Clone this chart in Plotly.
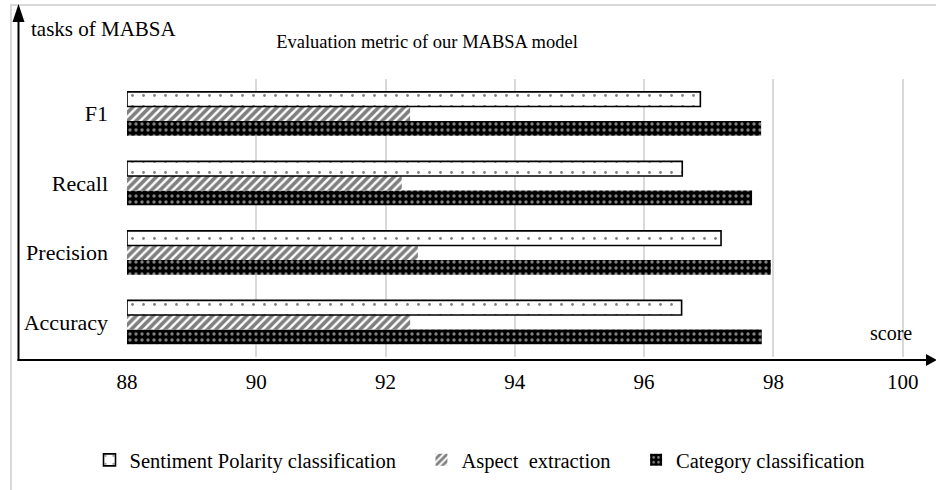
import plotly.graph_objects as go

# ---- data ----
metrics = ["Accuracy", "Precision", "Recall", "F1"]
sentiment_polarity = [96.58, 97.19, 96.59, 96.87]
aspect_extraction = [92.38, 92.50, 92.25, 92.38]
category_classification = [97.82, 97.96, 97.67, 97.81]
x_ticks = [88, 90, 92, 94, 96, 98, 100]
axis_start = 88
series_names = ["Sentiment Polarity classification", "Aspect  extraction",
                "Category classification"]

FONT = "Liberation Serif, Times New Roman, serif"
W, H = 936, 490
L, R, T, B = 127, 1, 79, 133
PW, PH = W - L - R, H - T - B
PAD = "\u00a0" * 4


def px(x):
    return (x - L) / PW


def py(y):
    return (H - B - y) / PH


fig = go.Figure()

# traces added bottom-to-top inside each group
fig.add_trace(go.Bar(
    name=series_names[2], y=metrics,
    x=[v - axis_start for v in category_classification], base=axis_start,
    orientation="h", legendrank=3,
    marker=dict(color="black", line=dict(width=0),
                pattern=dict(shape=".", fgcolor="white", bgcolor="black",
                             size=6, solidity=0.25)),
))
fig.add_trace(go.Bar(
    name=series_names[1] + PAD, y=metrics,
    x=[v - axis_start for v in aspect_extraction], base=axis_start,
    orientation="h", legendrank=2,
    marker=dict(color="white", line=dict(width=0),
                pattern=dict(shape="/", fgcolor="black", bgcolor="white",
                             size=6, solidity=0.6)),
))
fig.add_trace(go.Bar(
    name=series_names[0] + PAD, y=metrics,
    x=[v - axis_start for v in sentiment_polarity], base=axis_start,
    orientation="h", legendrank=1,
    marker=dict(color="white", line=dict(width=1.6, color="black"),
                pattern=dict(shape=".", fgcolor="black", bgcolor="white",
                             size=11, solidity=0.05)),
))

shapes = [
    # outer light frame
    dict(type="rect", xref="paper", yref="paper",
         x0=px(11), x1=px(945), y0=py(500), y1=py(5),
         line=dict(color="#d9d9d9", width=2), layer="below"),
    # y axis arrow
    dict(type="line", xref="paper", yref="paper",
         x0=px(18.5), x1=px(18.5), y0=py(361), y1=py(18),
         line=dict(color="black", width=2)),
    dict(type="path", xref="paper", yref="paper",
         path=f"M {px(18.5)} {py(4)} L {px(12.5)} {py(22)} L {px(24.5)} {py(22)} Z",
         fillcolor="black", line=dict(width=0)),
    # x axis arrow
    dict(type="line", xref="paper", yref="paper",
         x0=px(17.5), x1=px(928), y0=py(360), y1=py(360),
         line=dict(color="black", width=2)),
    dict(type="path", xref="paper", yref="paper",
         path=f"M {px(937)} {py(360)} L {px(926)} {py(354)} L {px(926)} {py(366)} Z",
         fillcolor="black", line=dict(width=0)),
]

annotations = [
    dict(text="tasks of MABSA", xref="paper", yref="paper",
         x=px(29), y=py(29), xanchor="left", yanchor="middle",
         showarrow=False, font=dict(family=FONT, size=21, color="black")),
    dict(text="score", xref="paper", yref="paper",
         x=px(891), y=py(333), xanchor="center", yanchor="middle",
         showarrow=False, font=dict(family=FONT, size=20, color="black")),
]

fig.update_layout(
    width=W, height=H,
    margin=dict(l=L, r=R, t=T, b=B),
    paper_bgcolor="white", plot_bgcolor="white",
    barmode="group", bargap=0.37, bargroupgap=0,
    font=dict(family=FONT, size=20, color="black"),
    title=dict(text="Evaluation metric of our MABSA model",
               x=427 / W, xanchor="center", y=1 - 42 / H, yanchor="middle",
               font=dict(family=FONT, size=18.5, color="black")),
    xaxis=dict(range=[88, 100.5], tickvals=x_ticks, showgrid=True,
               gridcolor="#d9d9d9", gridwidth=1.5, zeroline=False,
               showline=False, ticks="", ticklabelstandoff=10,
               tickfont=dict(family=FONT, size=21)),
    yaxis=dict(categoryorder="array", categoryarray=metrics,
               showgrid=False, zeroline=False, showline=False, ticks="",
               ticklabelstandoff=18, tickfont=dict(family=FONT, size=22)),
    legend=dict(orientation="h", x=px(480), xanchor="center",
                y=py(460), yanchor="middle", traceorder="normal",
                font=dict(family=FONT, size=20.5), bgcolor="rgba(0,0,0,0)"),
    shapes=shapes, annotations=annotations,
)

fig.write_html("out.html", config={"displayModeBar": False},
               post_script="document.body.style.margin='0';")
